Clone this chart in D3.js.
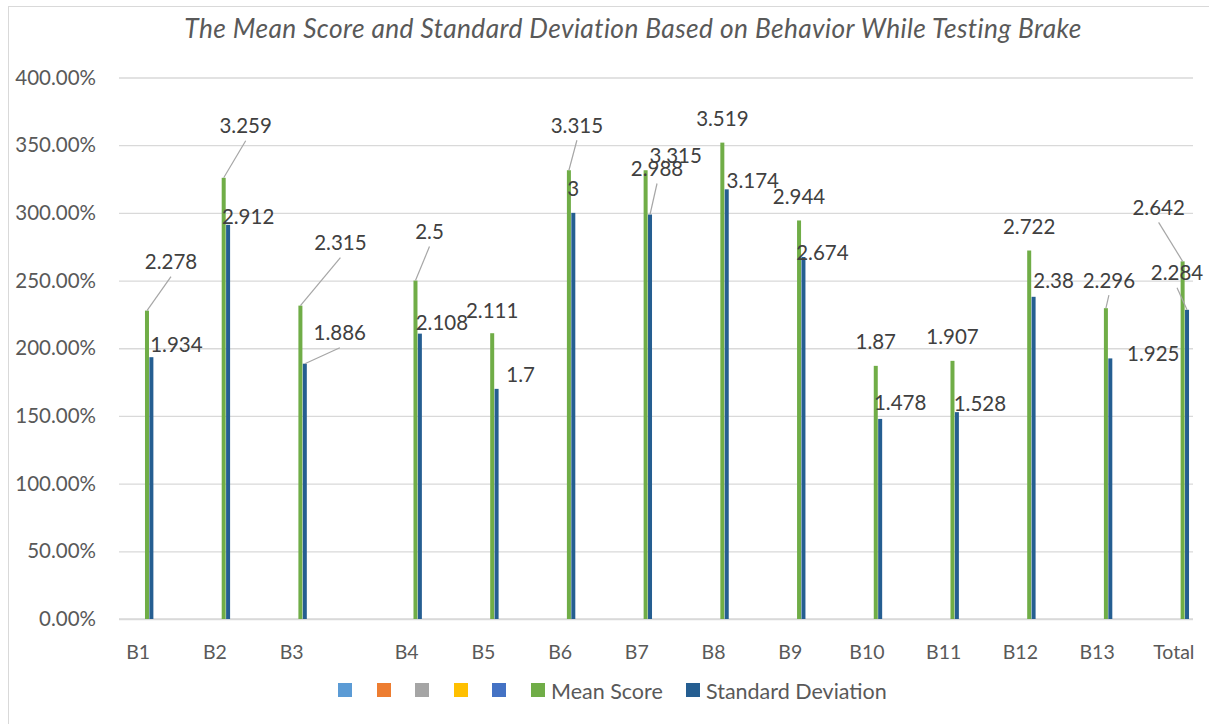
<!DOCTYPE html>
<html>
<head>
<meta charset="utf-8">
<script src="https://cdn.jsdelivr.net/npm/d3@7"></script>
<style>
  body { margin: 0; background: #fff; }
  text { font-family: Lato, "Open Sans", sans-serif; }
</style>
</head>
<body>
<div id="chart"></div>
<script>

// data
var categories = ["B1", "B2", "B3", "B4", "B5", "B6", "B7", "B8", "B9", "B10", "B11", "B12", "B13", "Total"];
var meanScore = [2.278, 3.259, 2.315, 2.5, 2.111, 3.315, 3.315, 3.519, 2.944, 1.87, 1.907, 2.722, 2.296, 2.642];
var stdDev = [1.934, 2.912, 1.886, 2.108, 1.7, 3, 2.988, 3.174, 2.674, 1.478, 1.528, 2.38, 1.925, 2.284];
var seriesNames = ["", "", "", "", "", "Mean Score", "Standard Deviation"];
var seriesColors = ["#5B9BD5", "#ED7D31", "#A5A5A5", "#FFC000", "#4472C4", "#70AD47", "#255E91"];
var yTicks = [0, 0.5, 1, 1.5, 2, 2.5, 3, 3.5, 4];
var title = "The Mean Score and Standard Deviation Based on Behavior While Testing Brake";

// label nudges (dx, dy from bar top), and which labels get a leader line
var meanNudge = [[24, -49], [22, -52], [40, -63], [14, -49], [0, -23], [8, -45], [30, -15],
                 [0, -24], [0, -24], [0, -24], [0, -24], [0, -24], [3, -28], [-24, -54]];
var sdNudge = [[25, -13], [20, -8], [35, -31], [22, -11], [24, -14], [0, -24], [7, -46],
               [26, -9], [19, -4], [20, -16], [23, -9], [20, -16], [43, -5], [-10, -37]];
var meanLeader = ["B1", "B2", "B3", "B4", "B6", "B13", "Total"];
var sdLeader = ["B3", "B7", "Total"];

var width = 1209, height = 724;
var plotLeft = 119, plotRight = 1193, plotTop = 77.5, plotBottom = 619;
var gapAfter = "B3";

var svg = d3.select("#chart").append("svg")
    .attr("width", width)
    .attr("height", height);

// chart frame
svg.append("rect")
    .attr("x", 8.5).attr("y", 6.5)
    .attr("width", 1220).attr("height", 730)
    .attr("fill", "none")
    .attr("stroke", "#D9D9D9");

var step = (plotRight - plotLeft) / 14;
var xPoint = d3.scalePoint()
    .domain(categories)
    .range([plotLeft, plotRight - step / 2])
    .padding(0.25);

function x(c) {
    var i = categories.indexOf(c);
    return xPoint(c) + (i > categories.indexOf(gapAfter) ? xPoint.step() / 2 : 0);
}

var barW = 4.4;
var x1 = d3.scaleBand()
    .domain(d3.range(seriesNames.length))
    .range([-3.5 * barW, 3.5 * barW]);

var y = d3.scaleLinear()
    .domain([0, 4])
    .range([plotBottom, plotTop]);

// gridlines + y labels
var yAxis = d3.axisLeft(y)
    .tickValues(yTicks)
    .tickFormat(d3.format(".2%"))
    .tickSize(-(plotRight - plotLeft))
    .tickPadding(23);

var gy = svg.append("g")
    .attr("transform", "translate(" + plotLeft + ",0)")
    .call(yAxis);
gy.select(".domain").remove();
gy.selectAll("line").attr("stroke", "#D9D9D9").attr("stroke-width", 1.3);
gy.selectAll("text")
    .attr("fill", "#595959")
    .style("font-family", "Lato, sans-serif")
    .style("font-size", "20.5px");

// x axis
var gx = svg.append("g")
    .attr("transform", "translate(0," + plotBottom + ")");
gx.append("line")
    .attr("x1", plotLeft).attr("x2", plotRight)
    .attr("stroke", "#D9D9D9").attr("stroke-width", 1.3);
gx.selectAll("text.cat")
    .data(categories)
    .enter().append("text")
    .attr("class", "cat")
    .attr("x", function(d) { return x(d); })
    .attr("y", 40)
    .attr("text-anchor", "middle")
    .attr("fill", "#595959")
    .style("font-size", "19.5px")
    .text(function(d) { return d; });

// bars
var series = [
    {idx: 5, values: meanScore, nudge: meanNudge, leader: meanLeader},
    {idx: 6, values: stdDev, nudge: sdNudge, leader: sdLeader}
];

series.forEach(function(s) {
    var g = svg.append("g");
    var rows = categories.map(function(c, i) {
        return {c: c, v: s.values[i], n: s.nudge[i]};
    });

    g.selectAll("rect")
        .data(rows)
        .enter().append("rect")
        .attr("x", function(d) { return x(d.c) + x1(s.idx) + 0.2; })
        .attr("width", x1.bandwidth() - 0.4)
        .attr("y", function(d) { return y(d.v); })
        .attr("height", function(d) { return y(0) - y(d.v); })
        .attr("fill", seriesColors[s.idx]);

    function bx(d) { return x(d.c) + x1(s.idx) + x1.bandwidth() / 2; }

    g.selectAll("line.leader")
        .data(rows.filter(function(d) { return s.leader.indexOf(d.c) >= 0; }))
        .enter().append("line")
        .attr("class", "leader")
        .attr("x1", function(d) { return bx(d) + d.n[0]; })
        .attr("y1", function(d) { return y(d.v) + d.n[1] + 15; })
        .attr("x2", bx)
        .attr("y2", function(d) { return y(d.v); })
        .attr("stroke", "#A6A6A6")
        .attr("stroke-width", 1.2);

    g.selectAll("text")
        .data(rows)
        .enter().append("text")
        .attr("x", function(d) { return bx(d) + d.n[0]; })
        .attr("y", function(d) { return y(d.v) + d.n[1]; })
        .attr("dy", "0.36em")
        .attr("text-anchor", "middle")
        .attr("fill", "#404040")
        .style("font-size", "20.5px")
        .text(function(d) { return d.v; });
});

// title
svg.append("text")
    .attr("x", 633)
    .attr("y", 38)
    .attr("text-anchor", "middle")
    .attr("fill", "#595959")
    .style("font-size", "26.3px")
    .style("font-style", "italic")
    .style("letter-spacing", "0.4px")
    .text(title);

// legend
var legendX = [338, 377, 415, 454, 492, 531, 686];
var legend = svg.append("g").attr("transform", "translate(0,683)");
seriesNames.forEach(function(name, i) {
    legend.append("rect")
        .attr("x", legendX[i]).attr("y", 0)
        .attr("width", 14).attr("height", 14)
        .attr("fill", seriesColors[i]);
    if (name) {
        legend.append("text")
            .attr("x", legendX[i] + 20)
            .attr("y", 16)
            .attr("fill", "#595959")
            .style("font-size", "21.5px")
            .text(name);
    }
});
</script>
</body>
</html>
